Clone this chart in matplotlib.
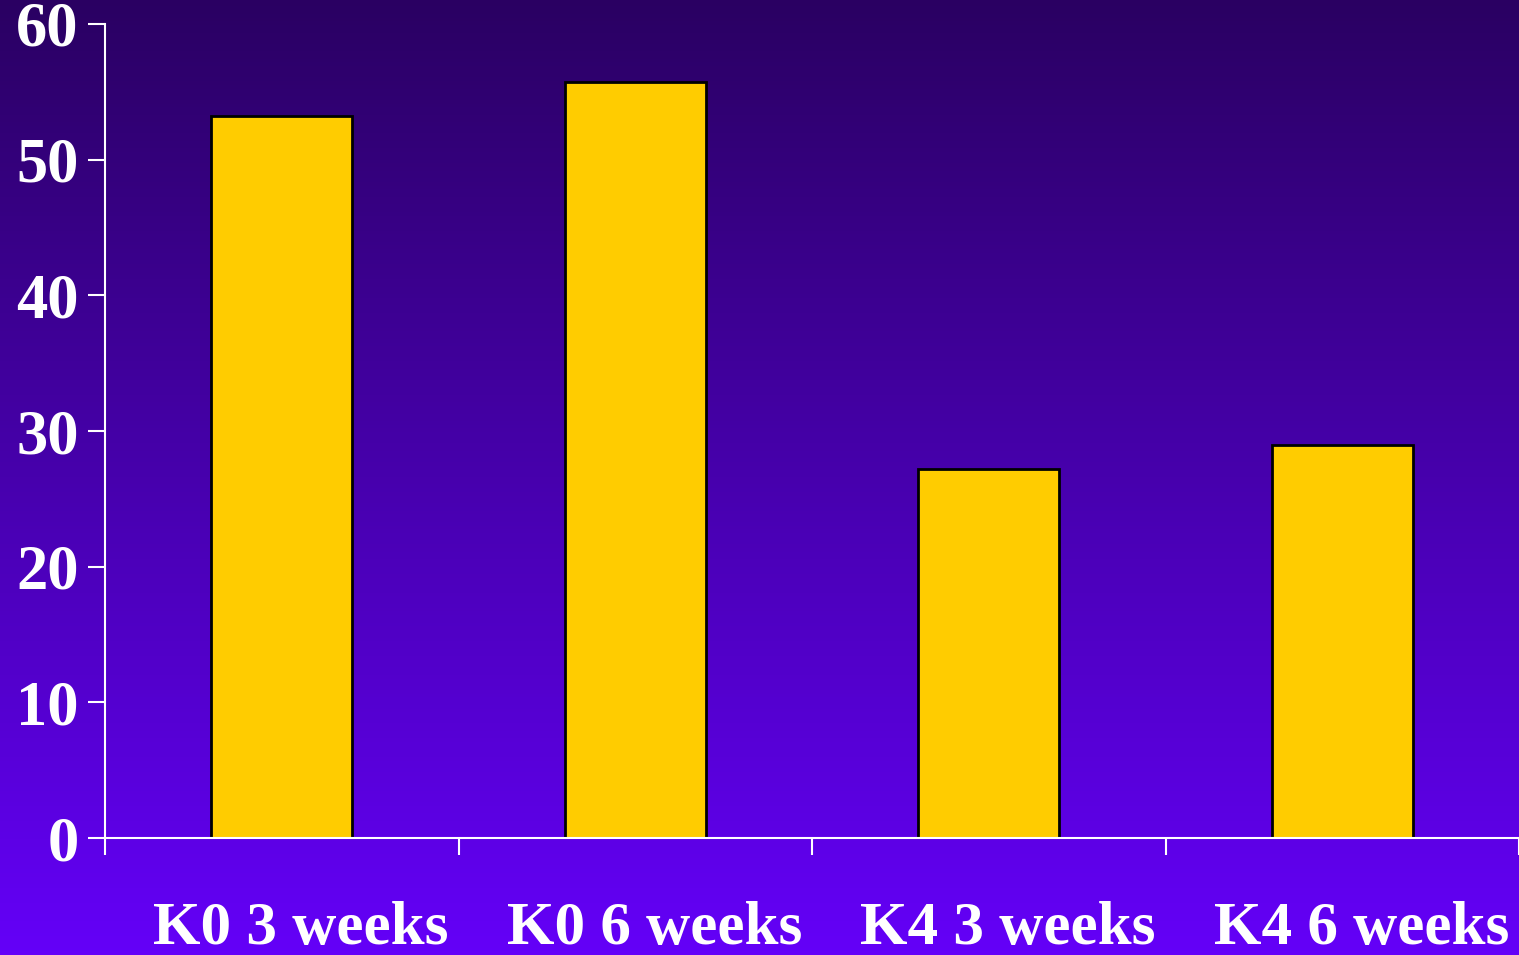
import numpy as np
import matplotlib.pyplot as plt

categories = ['K0 3 weeks', 'K0 6 weeks', 'K4 3 weeks', 'K4 6 weeks']
values = [53.2, 55.7, 27.2, 29.0]
yticks = [0, 10, 20, 30, 40, 50, 60]

plt.rcParams['font.family'] = ['Liberation Serif', 'DejaVu Serif']
plt.rcParams['font.weight'] = 'bold'

fig = plt.figure(figsize=(15.19, 9.55), dpi=100)

# gradient background
bg = fig.add_axes([0, 0, 1, 1])
top = np.array([0x2a, 0x00, 0x62]) / 255
bottom = np.array([0x64, 0x00, 0xf8]) / 255
t = np.linspace(0, 1, 256)[:, None]
grad = top * (1 - t) + bottom * t
bg.imshow(grad[:, None, :], aspect='auto', extent=[0, 1, 0, 1])
bg.set_axis_off()

ax = fig.add_axes([105 / 1519, 117 / 955, 1 - 105 / 1519, 814 / 955])
ax.patch.set_alpha(0)
x = np.arange(len(categories))
ax.bar(x, values, width=0.40, color='#ffcc00', edgecolor='black', linewidth=2, zorder=3)

ax.set_xlim(-0.5, 3.5)
ax.set_ylim(0, 60)
ax.set_yticks(yticks)
ax.set_xticks(np.arange(-0.5, 4, 1))
ax.set_xticklabels([])
ax.tick_params(axis='y', colors='white', length=12, width=1.5, pad=7, labelsize=45, direction='out')
ax.tick_params(axis='x', colors='white', length=12, width=1.5, direction='out')
for lab in ax.get_yticklabels():
    lab.set_fontweight('bold')

for s in ['top', 'right']:
    ax.spines[s].set_visible(False)
for s in ['left', 'bottom']:
    ax.spines[s].set_color('white')
    ax.spines[s].set_linewidth(1.5)
    ax.spines[s].set_zorder(4)
ax.spines['bottom'].set_clip_on(False)

for i, c in enumerate(categories):
    ax.text(i + 0.055, -0.112, c, transform=ax.get_xaxis_transform(),
            ha='center', va='center', color='white', fontsize=44, fontweight='bold')

fig.savefig('out.png', dpi=100)
